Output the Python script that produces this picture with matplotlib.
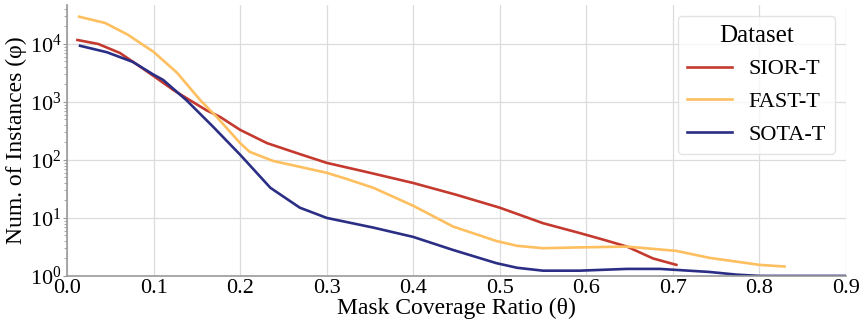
import matplotlib
matplotlib.use("Agg")
import matplotlib.pyplot as plt
import numpy as np

plt.rcParams['font.family'] = ['Liberation Serif', 'DejaVu Serif']
plt.rcParams['mathtext.fontset'] = 'stix'

sior_x = [0.012, 0.036, 0.061, 0.082, 0.100, 0.123, 0.142, 0.161, 0.177, 0.200, 0.231, 0.269, 0.300, 0.350, 0.400, 0.450, 0.500, 0.550, 0.592, 0.620, 0.647, 0.677, 0.704]
sior_y = [11700, 10000, 7000, 4300, 2800, 1600, 1070, 720, 550, 330, 195, 126, 89, 60, 40, 25, 15, 8.1, 5.5, 4.2, 3.2, 2.0, 1.55]

fast_x = [0.014, 0.044, 0.070, 0.100, 0.127, 0.154, 0.173, 0.200, 0.211, 0.238, 0.269, 0.300, 0.323, 0.354, 0.400, 0.446, 0.496, 0.520, 0.550, 0.592, 0.647, 0.704, 0.742, 0.800, 0.829]
fast_y = [29500, 23000, 14500, 7300, 3200, 1070, 550, 195, 138, 96, 76, 60, 47, 33, 16.2, 7.1, 4.0, 3.3, 3.0, 3.1, 3.2, 2.7, 2.05, 1.55, 1.45]

sota_x = [0.015, 0.046, 0.076, 0.100, 0.111, 0.138, 0.169, 0.200, 0.235, 0.269, 0.300, 0.354, 0.400, 0.446, 0.496, 0.520, 0.550, 0.592, 0.647, 0.685, 0.742, 0.774, 0.800, 0.900]
sota_y = [9300, 7200, 4900, 2950, 2400, 1070, 370, 123, 33, 15, 10, 6.8, 4.7, 2.8, 1.66, 1.38, 1.23, 1.23, 1.32, 1.32, 1.17, 1.05, 1.0, 1.0]

xticks = [0.0, 0.1, 0.2, 0.3, 0.4, 0.5, 0.6, 0.7, 0.8, 0.9]

fig = plt.figure(figsize=(8.65, 3.32), dpi=100)
ax = fig.add_axes([0.0775, 0.169, 0.9005, 0.816])

ax.plot(sior_x, sior_y, color='#c43a2f', lw=1.9, label='SIOR-T')
ax.plot(fast_x, fast_y, color='#fdbf5f', lw=1.9, label='FAST-T')
ax.plot(sota_x, sota_y, color='#2b2e85', lw=1.9, label='SOTA-T')

ax.set_yscale('log')
ax.set_xlim(0, 0.9)
ax.set_ylim(1, 47000)
ax.set_xticks(xticks)
ax.set_xticklabels([f'{t:.1f}' for t in xticks])
ax.grid(True, which='major', color='#dcdcdc', lw=0.9)
ax.set_axisbelow(True)
for s in ['top', 'right']:
    ax.spines[s].set_visible(False)
for s in ['left', 'bottom']:
    ax.spines[s].set_color('#999999')
    ax.spines[s].set_linewidth(1.2)
ax.tick_params(axis='both', which='major', labelsize=16, length=3, color='#999999', pad=1)
ax.tick_params(axis='y', which='minor', length=2, color='#999999')
ax.tick_params(axis='x', which='major', length=0, pad=2)

ax.set_xlabel('Mask Coverage Ratio (θ)', fontsize=17, labelpad=0)
ax.set_ylabel('Num. of Instances (φ)', fontsize=17, labelpad=2)

leg = ax.legend(title='Dataset', fontsize=16, title_fontsize=18, loc='upper right',
                bbox_to_anchor=(0.986, 0.96), frameon=True, handlelength=2.05,
                borderpad=0.4, labelspacing=0.55, handletextpad=0.75, borderaxespad=0.0)
leg.get_frame().set_edgecolor('#dddddd')
leg.get_frame().set_linewidth(1.0)

fig.savefig('out.png', dpi=100)
